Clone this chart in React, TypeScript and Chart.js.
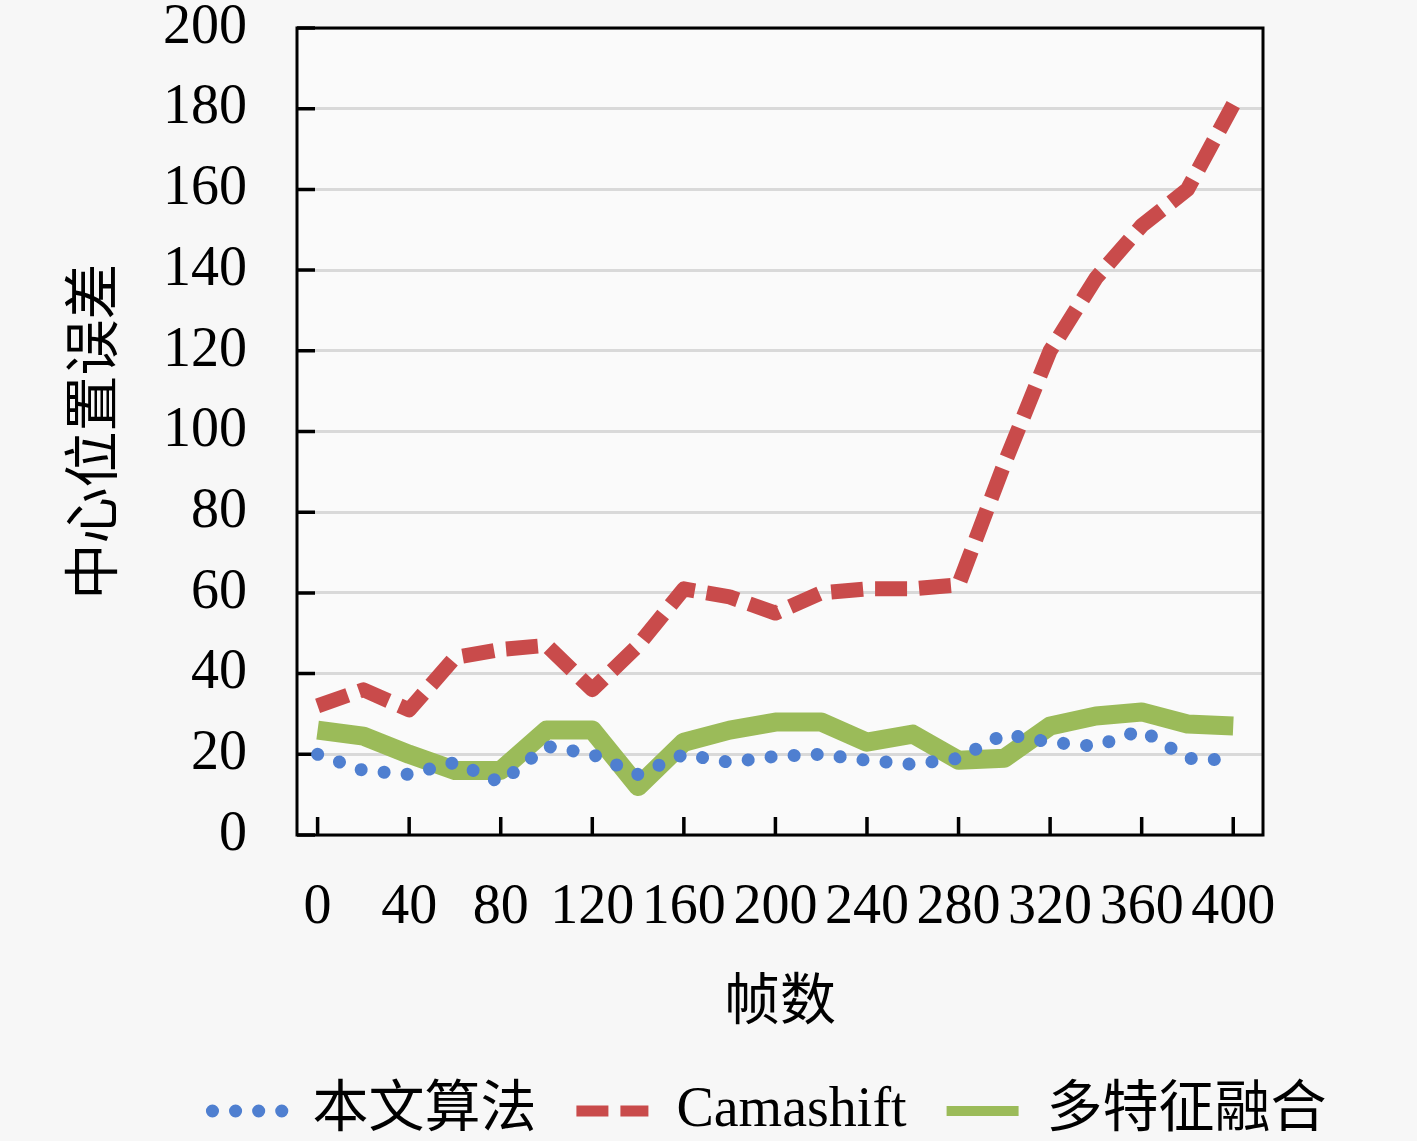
import React, { useEffect, useRef } from 'react';
import Chart from 'chart.js/auto';

// 帧数 (x) and the three error series
const frames = [0, 20, 40, 60, 80, 100, 120, 140, 160, 180, 200, 220, 240, 260, 280, 300, 320, 340, 360, 380, 400];
const xTickValues = [0, 40, 80, 120, 160, 200, 240, 280, 320, 360, 400];
const seriesNames = ['本文算法', 'Camashift', '多特征融合'];
const ours = [20, 16, 15, 18, 13, 22, 20, 15, 20, 18, 19.5, 20, 18.5, 17.5, 19, 25, 23, 22, 26, 19, 18.5];
const camshift = [32, 36, 31, 44, 46, 47, 36, 47, 61, 59, 55, 60, 61, 61, 62, 92, 120, 138, 151, 160, 181];
const fusion = [26, 24.5, 20, 16, 16, 26, 26, 12, 23, 26, 28, 28, 23, 25, 18.5, 19, 27, 29.5, 30.5, 27.5, 27];

const FONT = '"Liberation Serif", "Noto Sans CJK SC", serif';
const W = 1417;
const H = 1141;

const frame = {
    id: 'frame',
    beforeDraw(chart: any) {
        const { ctx, chartArea } = chart;
        ctx.save();
        ctx.fillStyle = '#f7f7f7';
        ctx.fillRect(0, 0, chart.width, chart.height);
        ctx.fillStyle = '#fafafa';
        ctx.fillRect(chartArea.left, chartArea.top, chartArea.right - chartArea.left, chartArea.bottom - chartArea.top);
        ctx.restore();
    },
    beforeDatasetsDraw(chart: any) {
        const { ctx, chartArea, scales } = chart;
        ctx.save();
        ctx.strokeStyle = '#000';
        ctx.lineWidth = 3;
        ctx.strokeRect(chartArea.left, chartArea.top, chartArea.right - chartArea.left, chartArea.bottom - chartArea.top);
        ctx.lineWidth = 3.5;
        ctx.beginPath();
        scales.x.ticks.forEach((t: any) => {
            const px = scales.x.getPixelForValue(t.value);
            ctx.moveTo(px, chartArea.bottom);
            ctx.lineTo(px, chartArea.bottom - 18);
        });
        scales.y.ticks.forEach((t: any) => {
            const py = scales.y.getPixelForValue(t.value);
            ctx.moveTo(chartArea.left, py);
            ctx.lineTo(chartArea.left + 18, py);
        });
        ctx.stroke();
        ctx.restore();
    },
    afterLayout(chart: any) {
        const lg = chart.legend;
        if (lg) {
            lg.left = 122;
            lg.right = W;
            lg.top += 8;
            lg.bottom += 8;
        }
    },
};

const App: React.FC = () => {
    const chartRef = useRef<HTMLCanvasElement>(null);
    const chartInstance = useRef<Chart | null>(null);

    useEffect(() => {
        document.body.style.margin = '0';
        document.body.style.background = '#f7f7f7';
        if (!chartRef.current) return;
        if (chartInstance.current) chartInstance.current.destroy();
        const ctx = chartRef.current.getContext('2d');
        if (!ctx) return;

        const legendWidths = [13, 11, 10];

        chartInstance.current = new Chart(ctx, {
            type: 'line',
            data: {
                datasets: [
                    {
                        label: seriesNames[0],
                        data: frames.map((f, i) => ({ x: f, y: ours[i] })),
                        borderColor: '#4f7fd0',
                        backgroundColor: '#4f7fd0',
                        borderWidth: 13,
                        borderDash: [0.1, 23],
                        borderCapStyle: 'round',
                        borderJoinStyle: 'round',
                        pointRadius: 0,
                        tension: 0,
                    },
                    {
                        label: seriesNames[1],
                        data: frames.map((f, i) => ({ x: f, y: camshift[i] })),
                        borderColor: '#c94b4b',
                        backgroundColor: '#c94b4b',
                        borderWidth: 15,
                        borderDash: [32, 12],
                        borderCapStyle: 'butt',
                        borderJoinStyle: 'round',
                        pointRadius: 0,
                        tension: 0,
                    },
                    {
                        label: seriesNames[2],
                        data: frames.map((f, i) => ({ x: f, y: fusion[i] })),
                        borderColor: '#9bbb59',
                        backgroundColor: '#9bbb59',
                        borderWidth: 19,
                        borderJoinStyle: 'round',
                        pointRadius: 0,
                        tension: 0,
                    },
                ],
            },
            options: {
                responsive: false,
                animation: false,
                devicePixelRatio: 1,
                layout: { padding: { left: 0, right: 154, top: 0, bottom: 0 } },
                scales: {
                    x: {
                        type: 'linear',
                        min: -9,
                        max: 413,
                        afterBuildTicks: (scale: any) => {
                            scale.ticks = xTickValues.map((v) => ({ value: v }));
                        },
                        afterFit: (scale: any) => {
                            scale.height = 200;
                        },
                        grid: { display: false, drawTicks: false },
                        border: { display: false },
                        ticks: {
                            autoSkip: false,
                            maxRotation: 0,
                            padding: 45,
                            color: '#000',
                            font: { family: FONT, size: 56, lineHeight: 1 },
                        },
                        title: {
                            display: true,
                            text: '帧数',
                            color: '#000',
                            padding: { top: 0, bottom: -3 },
                            font: { family: FONT, size: 56 },
                        },
                    },
                    y: {
                        min: 0,
                        max: 200,
                        afterFit: (scale: any) => {
                            scale.width = 297;
                            scale.paddingTop = 28;
                            scale.paddingBottom = 0;
                        },
                        grid: { color: '#d9d9d9', lineWidth: 3, drawTicks: false },
                        border: { display: false },
                        ticks: {
                            stepSize: 20,
                            padding: 50,
                            color: '#000',
                            font: { family: FONT, size: 56, lineHeight: 1 },
                        },
                        title: {
                            display: true,
                            text: '中心位置误差',
                            color: '#000',
                            padding: { top: 64, bottom: 0 },
                            font: { family: FONT, size: 56 },
                        },
                    },
                },
                plugins: {
                    tooltip: { enabled: false },
                    legend: {
                        position: 'bottom',
                        labels: {
                            usePointStyle: true,
                            pointStyle: 'line',
                            pointStyleWidth: 72,
                            padding: 40,
                            color: '#000',
                            font: { family: FONT, size: 56 },
                            generateLabels: (chart: any) =>
                                chart.data.datasets.map((ds: any, i: number) => ({
                                    text: ds.label,
                                    fillStyle: ds.borderColor,
                                    strokeStyle: ds.borderColor,
                                    fontColor: '#000',
                                    lineWidth: legendWidths[i],
                                    lineDash: ds.borderDash || [],
                                    lineCap: ds.borderCapStyle || 'butt',
                                    pointStyle: 'line',
                                    hidden: false,
                                    datasetIndex: i,
                                })),
                        },
                    },
                },
            },
            plugins: [frame],
        } as any);

        return () => {
            chartInstance.current?.destroy();
        };
    }, []);

    return (
        <div style={{ width: W, height: H }}>
            <canvas ref={chartRef} width={W} height={H} style={{ display: 'block' }}></canvas>
        </div>
    );
};

export default App;
